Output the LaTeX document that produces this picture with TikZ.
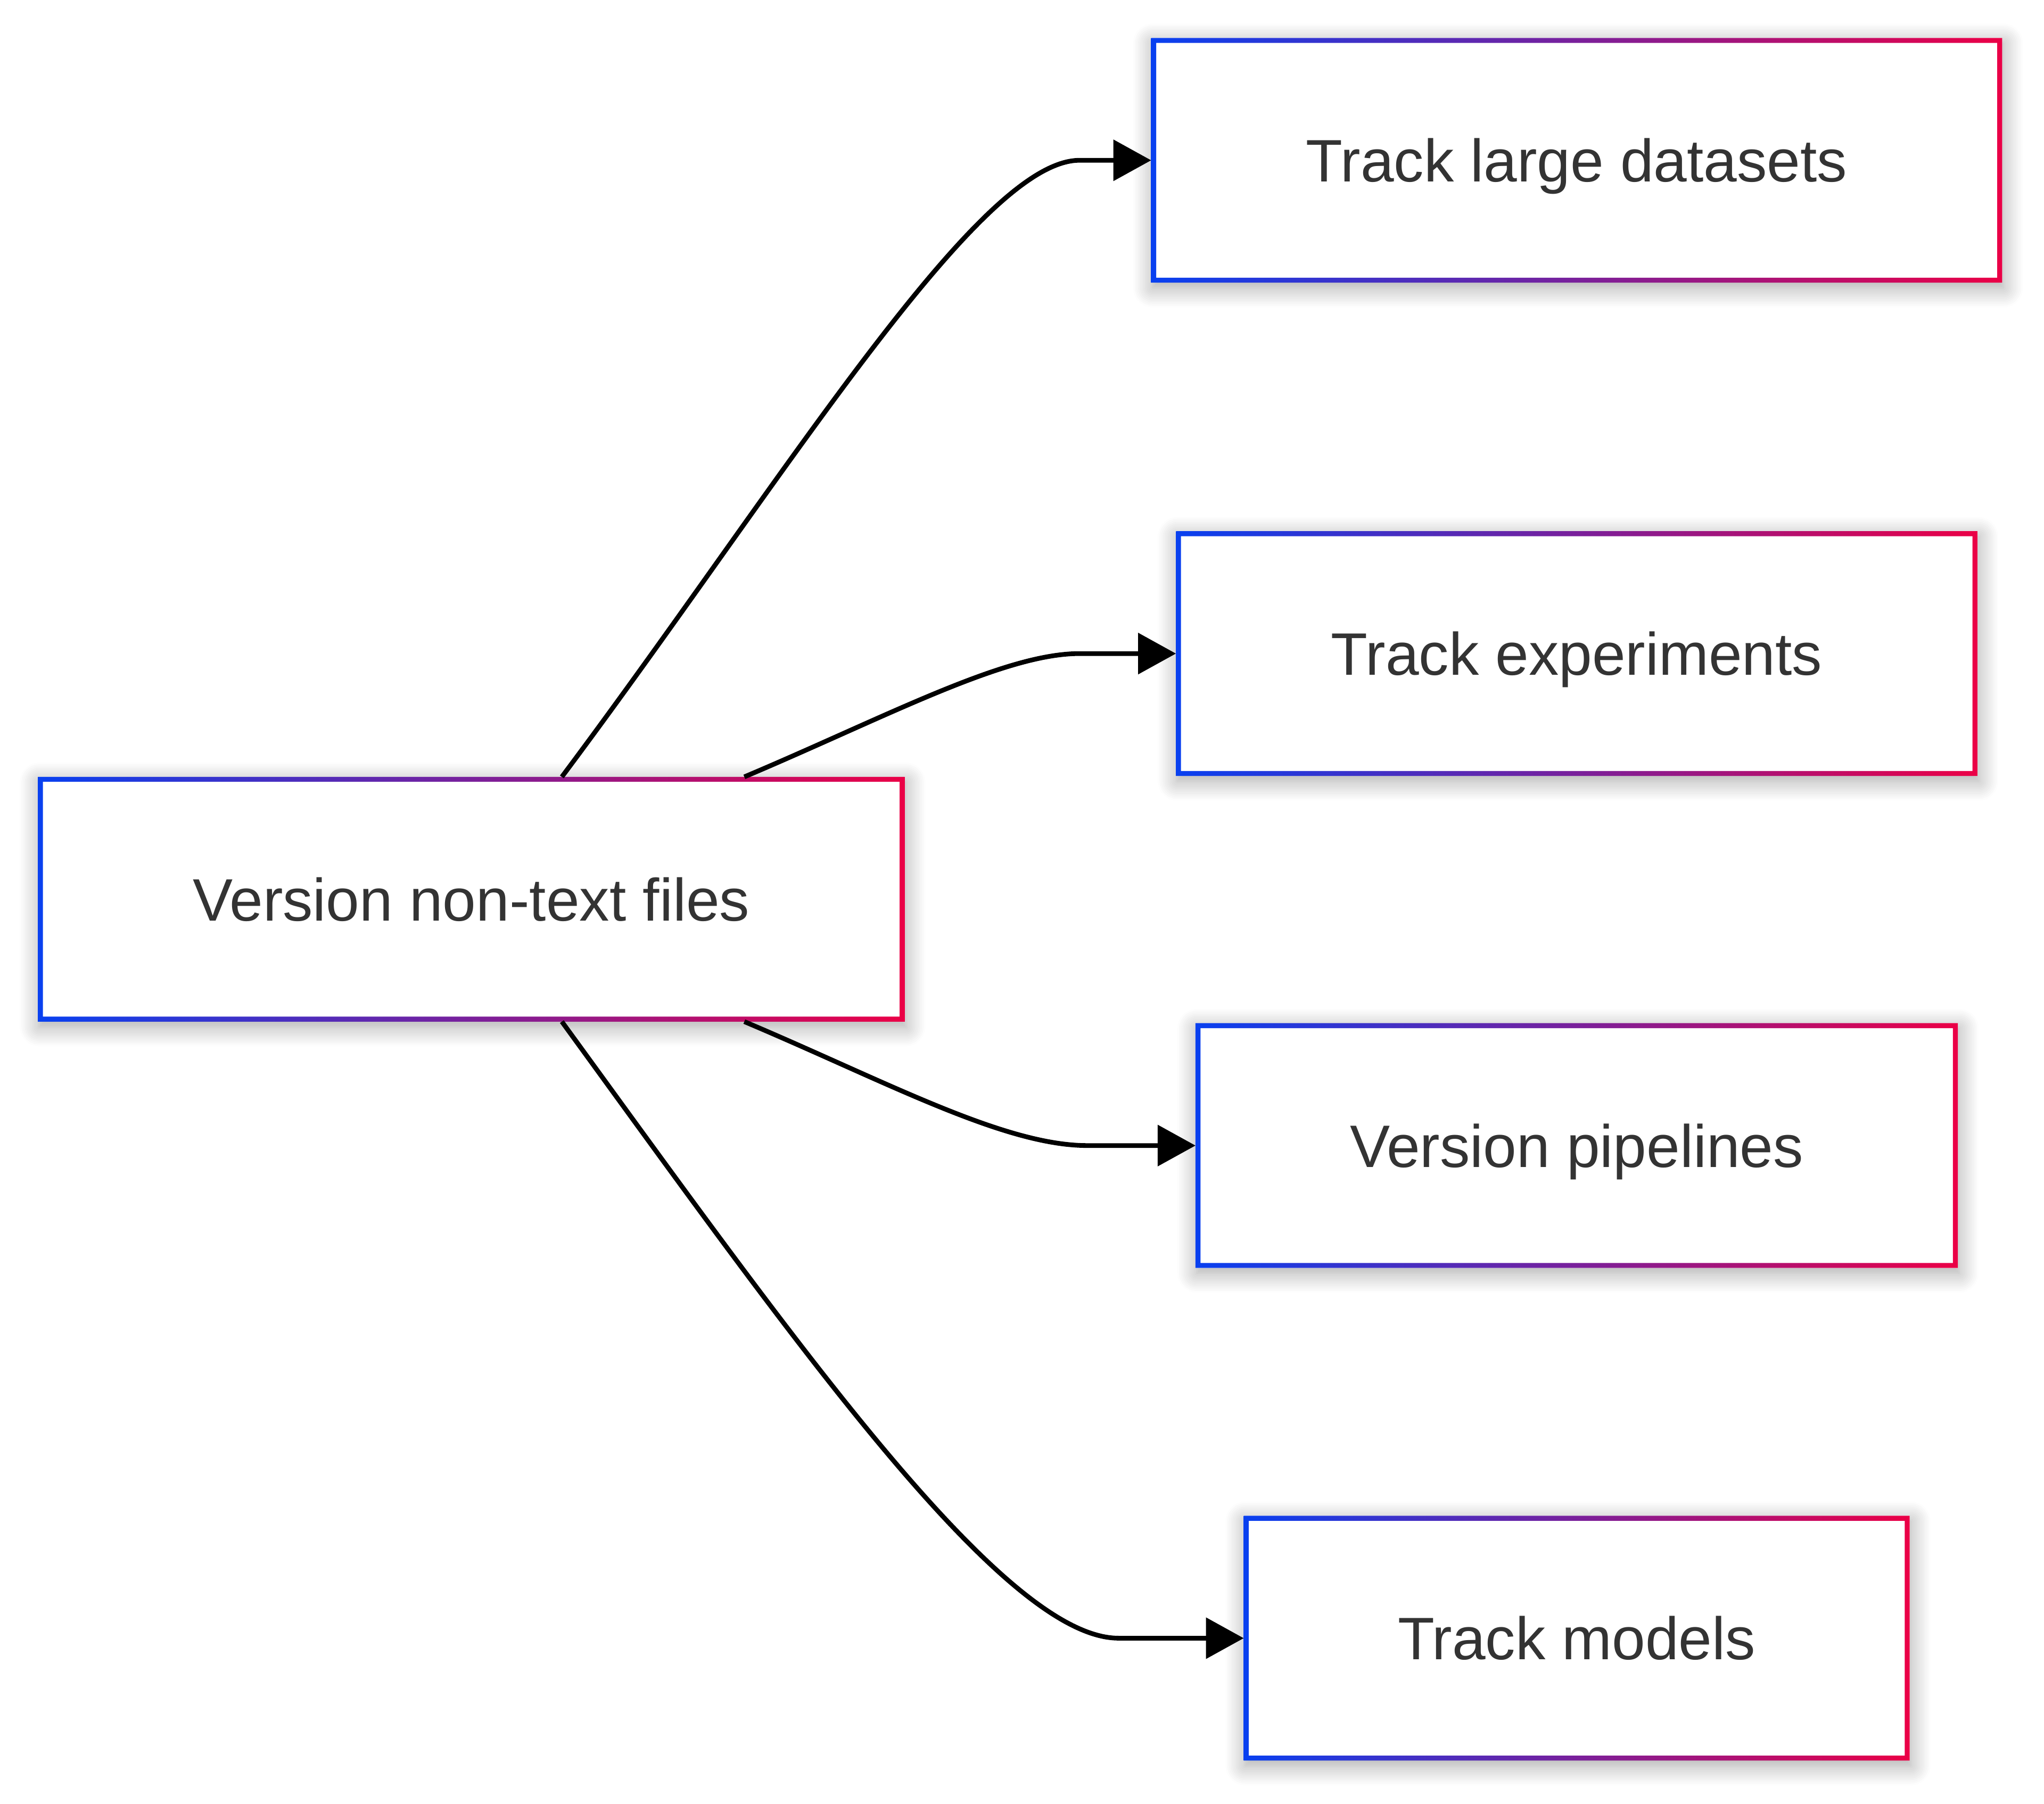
\documentclass[tikz,border=0pt]{standalone}
\usepackage{fontspec}
\setmainfont{Liberation Sans}
\usetikzlibrary{arrows.meta,shadows.blur,calc}
\pgfdeclarelayer{background}
\pgfsetlayers{background,main}
\definecolor{bl}{RGB}{8,64,240}
\definecolor{rd}{RGB}{235,0,70}
\definecolor{txt}{RGB}{51,51,51}
\begin{document}
\begin{tikzpicture}[x=0.5pt,y=-0.5pt,
  box/.style={rectangle, minimum height=92pt, inner sep=0pt, outer sep=0.95pt,
    font=\fontsize{23}{27}\selectfont, text=txt, text height=16.5pt, text depth=0pt},
  edge/.style={line width=1.8pt, draw=black, -{Triangle[length=14.5pt,width=15.5pt]}},
  shadowbox/.style={fill=white, blur shadow={shadow xshift=0.5pt, shadow yshift=-2pt,
    shadow blur radius=7.5pt, shadow blur steps=12, shadow opacity=35}},
  ring/.style={left color=bl, right color=rd, even odd rule}]
\useasboundingbox (0,0) rectangle (1568,1383.85);

\node[box, minimum width=330.5pt] (A) at (361.5,690) {Version non-text files};
\node[box, minimum width=324.5pt] (B) at (1209.5,123) {Track large datasets};
\node[box, minimum width=305.5pt] (C) at (1209.5,501.5) {Track experiments};
\node[box, minimum width=290.5pt] (D) at (1209.5,879) {Version pipelines};
\node[box, minimum width=253.5pt] (E) at (1209.5,1257) {Track models};

\begin{pgfonlayer}{background}
\foreach \n in {A,B,C,D,E}{
  \path[shadowbox] (\n.south west) rectangle (\n.north east);
  \shade[ring] (\n.south west) rectangle (\n.north east)
    ($(\n.south west)+(1.9pt,1.9pt)$) rectangle ($(\n.north east)+(-1.9pt,-1.9pt)$);
}
\end{pgfonlayer}

\draw[edge] ($(A.north)+(69.5,0)$) .. controls (600,370) and (750,123) .. ($(B.west)+(-55,0)$) -- (B.west);
\draw[edge] ($(A.north)+(209.5,0)$) .. controls (680,550) and (770,501.5) .. ($(C.west)+(-74,0)$) -- (C.west);
\draw[edge] ($(A.south)+(209.5,0)$) .. controls (680,830) and (770,879) .. ($(D.west)+(-83,0)$) -- (D.west);
\draw[edge] ($(A.south)+(69.5,0)$) .. controls (610,1030) and (770,1257) .. ($(E.west)+(-96,0)$) -- (E.west);
\end{tikzpicture}
\end{document}
